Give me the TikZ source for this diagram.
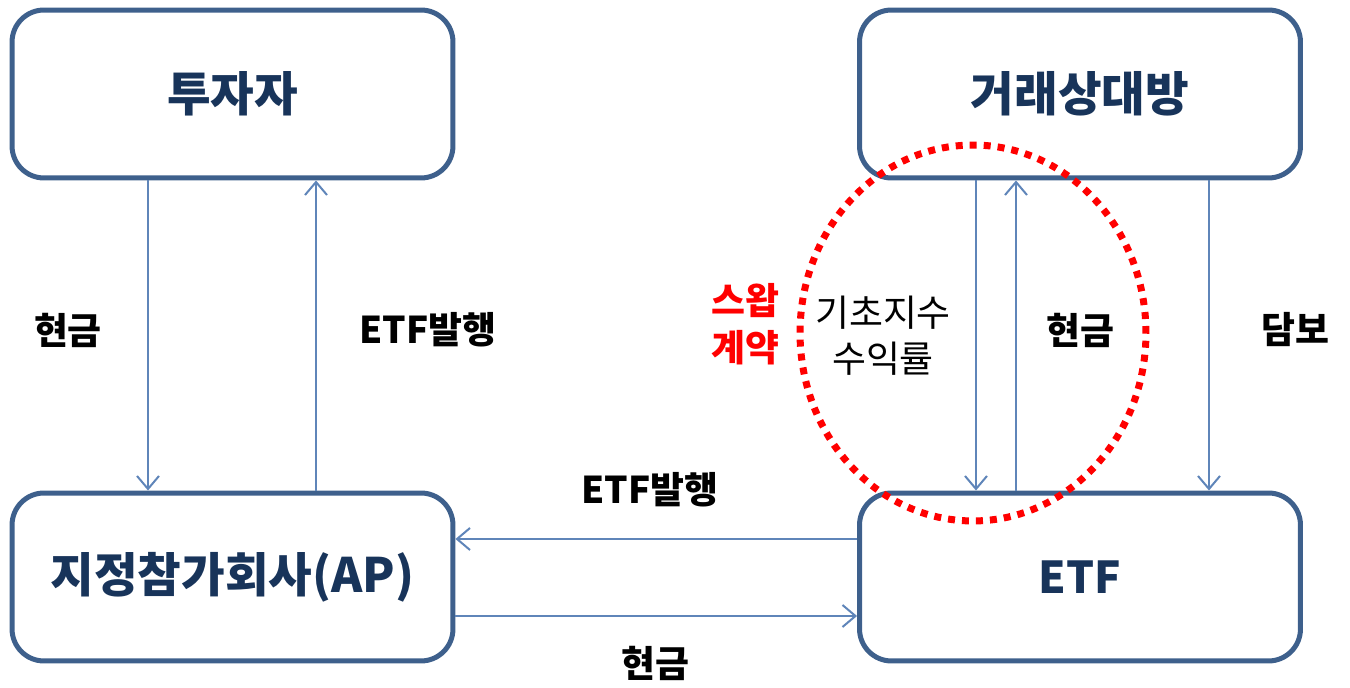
\documentclass[tikz,border=0pt]{standalone}
\usepackage{fontspec}
\setmainfont{Noto Sans CJK KR}
\usetikzlibrary{arrows.meta}
\definecolor{boxblue}{RGB}{62,96,140}
\definecolor{boxtext}{RGB}{24,52,90}
\definecolor{lineblue}{RGB}{95,133,185}

\begin{document}
\begin{tikzpicture}[x=0.02cm, y=-0.02cm,
  party/.style={draw=boxblue, line width=0.1cm, rounded corners=0.64cm,
    minimum width=8.82cm, minimum height=3.36cm, text=boxtext,
    font=\fontsize{27}{32}\selectfont\bfseries},
  flow/.style={draw=lineblue, line width=0.04cm,
    -{Straight Barb[length=0.26cm, width=0.44cm]}},
  lbl/.style={font=\fontsize{21}{26.5}\selectfont\bfseries, align=center}]
  \useasboundingbox (0,0) rectangle (1350,688);

  % Draw the four parties
  \node[party] (investor) at (232.5,94) {투자자};
  \node[party] (counter) at (1080,94) {거래상대방};
  \node[party] (ap) at (232.5,577) {지정참가회사(AP)};
  \node[party, font=\fontsize{25}{30}\selectfont\bfseries] (etf) at (1080,577) {ETF};

  % Positions of the flows
  \coordinate (xa) at (148,0);
  \coordinate (xb) at (316,0);
  \coordinate (xc) at (976,0);
  \coordinate (xd) at (1016,0);
  \coordinate (xe) at (1209,0);
  \coordinate (ya) at (0,539);
  \coordinate (yb) at (0,616);

  % Flows between investor and AP
  \draw[flow] (investor.south -| xa) -- (ap.north -| xa);
  \draw[flow] (ap.north -| xb) -- (investor.south -| xb);

  % Flows between AP and ETF
  \draw[flow] (etf.west |- ya) -- (ap.east |- ya);
  \draw[flow] (ap.east |- yb) -- (etf.west |- yb);

  % Flows between counterparty and ETF
  \draw[flow] (counter.south -| xc) -- (etf.north -| xc);
  \draw[flow] (etf.north -| xd) -- (counter.south -| xd);
  \draw[flow] (counter.south -| xe) -- (etf.north -| xe);

  % Labels of the flows
  \node[lbl] (cashdown) at (68,330) {현금};
  \node[lbl] (issueup) at (428,330) {ETF발행};
  \node[lbl] (issueleft) at (650,490) {ETF발행};
  \node[lbl] (cashright) at (655,663) {현금};
  \node[lbl, text=red] (swap) at (745,324) {스왑\\계약};
  \node[lbl, font=\fontsize{21}{26}\selectfont] (index) at (883,336) {기초지수\\수익률};
  \node[lbl] (cashup) at (1080,330) {현금};
  \node[lbl] (collat) at (1295,330) {담보};

  % Swap zone
  \draw[red, line width=0.14cm, dash pattern=on 0.14cm off 0.14cm]
    (973,333) ellipse [x radius=3.46cm, y radius=3.76cm];

\end{tikzpicture}
\end{document}
